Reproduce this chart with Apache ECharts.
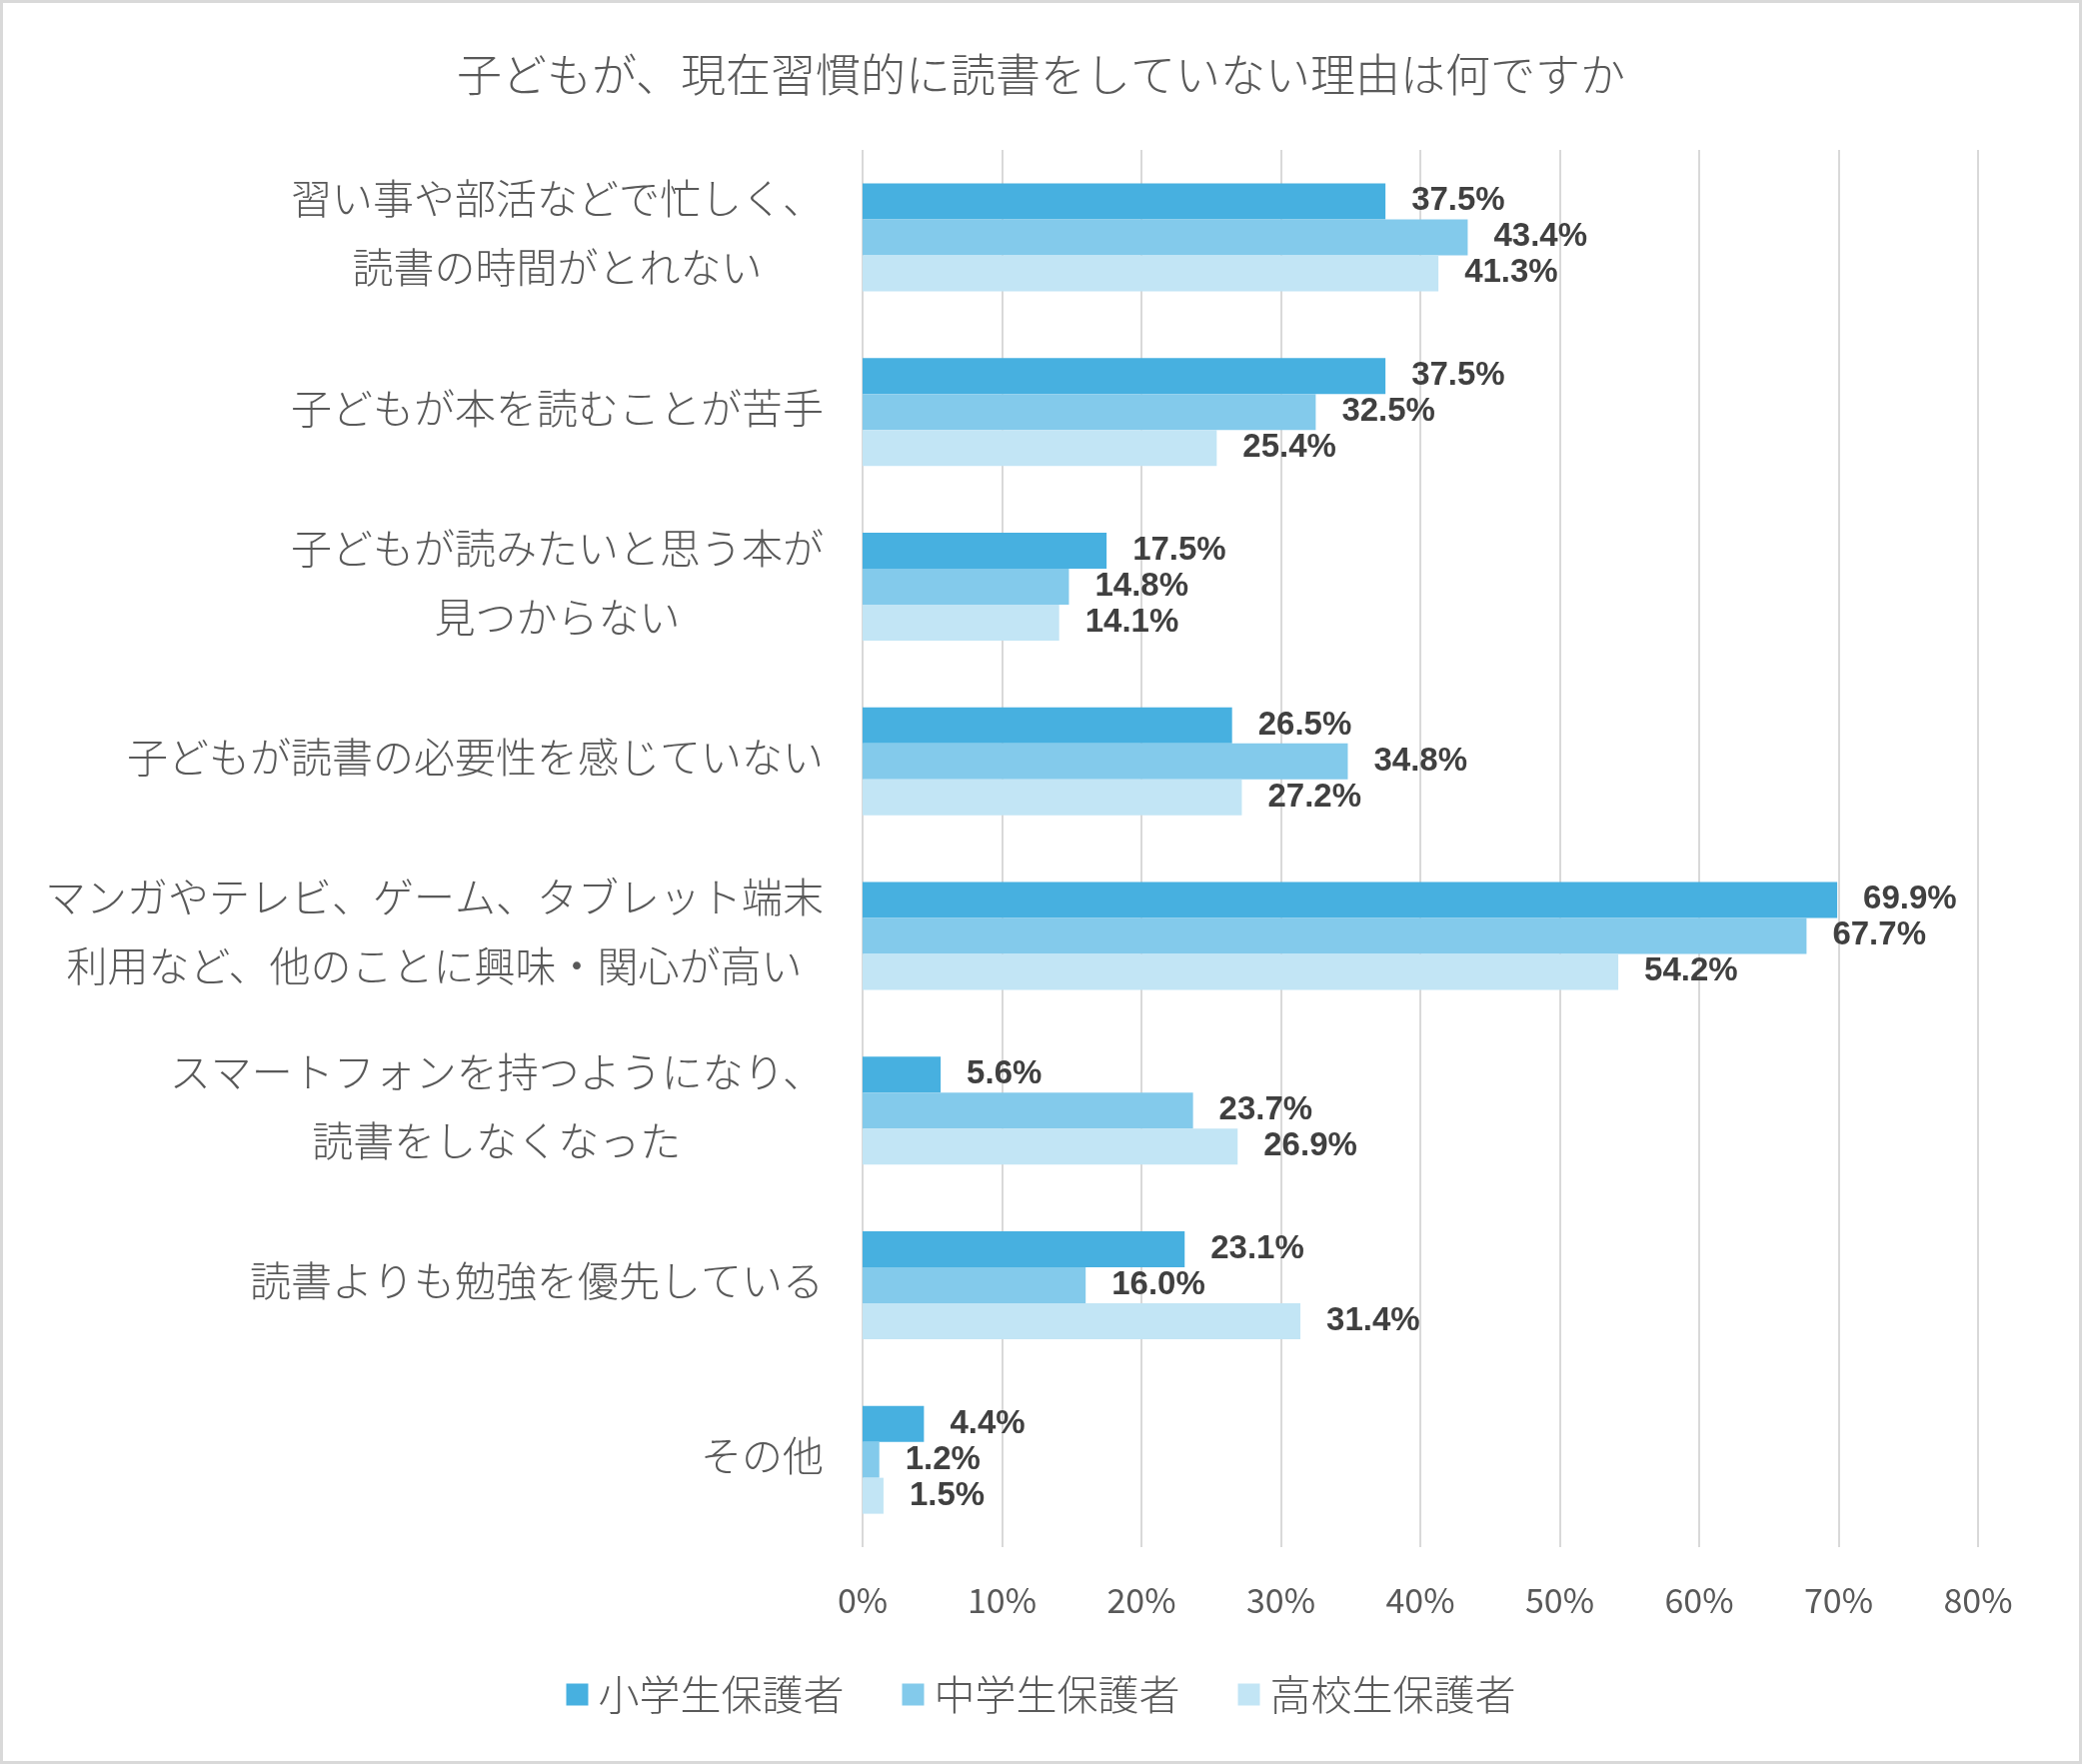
<!DOCTYPE html>
<html>
<head>
<meta charset="utf-8">
<script src="https://cdn.jsdelivr.net/npm/echarts@6/dist/echarts.min.js"></script>
<style>
html, body { margin: 0; padding: 0; background: #fff; }
#chart { width: 2083px; height: 1765px; }
</style>
</head>
<body>
<div id="chart"></div>
<script>
// 設問の選択肢（上から順）
const categories = [
    '習い事や部活などで忙しく、\n読書の時間がとれない',
    '子どもが本を読むことが苦手',
    '子どもが読みたいと思う本が\n見つからない',
    '子どもが読書の必要性を感じていない',
    'マンガやテレビ、ゲーム、タブレット端末\n利用など、他のことに興味・関心が高い',
    'スマートフォンを持つようになり、\n読書をしなくなった',
    '読書よりも勉強を優先している',
    'その他'
];
const seriesNames = ['小学生保護者', '中学生保護者', '高校生保護者'];
const elementary = [37.5, 37.5, 17.5, 26.5, 69.9, 5.6, 23.1, 4.4];
const juniorHigh = [43.4, 32.5, 14.8, 34.8, 67.7, 23.7, 16.0, 1.2];
const highSchool = [41.3, 25.4, 14.1, 27.2, 54.2, 26.9, 31.4, 1.5];
const tickMin = 0;
const tickMax = 80;
const tickStep = 10;

const colors = ['#47B0E0', '#83CAEB', '#C2E5F5'];
const jpFont = '"Noto Sans CJK JP", "Noto Sans", sans-serif';

const chart = echarts.init(document.getElementById('chart'));

function makeSeries(name, values, color) {
    return {
        name: name,
        type: 'bar',
        data: values,
        barWidth: 36,
        barGap: '0%',
        itemStyle: { color: color },
        label: {
            show: true,
            position: 'right',
            distance: 26,
            formatter: p => p.value.toFixed(1) + '%',
            color: '#404040',
            fontFamily: '"Liberation Sans", Arial, sans-serif',
            fontWeight: 'bold',
            fontSize: 33
        }
    };
}

const option = {
    backgroundColor: '#fff',
    animation: false,
    title: {
        text: '子どもが、現在習慣的に読書をしていない理由は何ですか',
        left: 'center',
        top: 44,
        textStyle: {
            color: '#595959',
            fontFamily: jpFont,
            fontWeight: 300,
            fontSize: 45,
            lineHeight: 52
        }
    },
    graphic: [{
        type: 'rect',
        shape: { x: 1.5, y: 1.5, width: 2080, height: 1762 },
        style: { fill: 'none', stroke: '#D9D9D9', lineWidth: 3 },
        silent: true
    }],
    legend: {
        data: seriesNames,
        left: 'center',
        top: 1670,
        icon: 'rect',
        itemWidth: 22,
        itemHeight: 22,
        itemGap: 58,
        textStyle: {
            color: '#595959',
            fontFamily: jpFont,
            fontWeight: 300,
            fontSize: 41,
            padding: [0, 0, 0, 5]
        }
    },
    grid: {
        left: 863,
        right: 104,
        top: 150,
        bottom: 217,
        containLabel: false
    },
    xAxis: {
        type: 'value',
        min: tickMin,
        max: tickMax,
        interval: tickStep,
        axisLine: { show: false },
        axisTick: { show: false },
        axisLabel: {
            formatter: '{value}%',
            color: '#595959',
            fontFamily: jpFont,
            fontSize: 34,
            margin: 36
        },
        splitLine: {
            lineStyle: { color: '#D9D9D9', width: 2 }
        }
    },
    yAxis: {
        type: 'category',
        data: categories,
        inverse: true,
        axisLine: { show: false },
        axisTick: { show: false },
        axisLabel: {
            margin: 39,
            padding: [0, 0, 8, 0],
            formatter: v => v.split('\n').map(s => '{c|' + s + '}').join('\n'),
            rich: {
                c: {
                    align: 'center',
                    color: '#595959',
                    fontFamily: jpFont,
                    fontWeight: 300,
                    fontSize: 41,
                    lineHeight: 69
                }
            }
        }
    },
    series: [
        makeSeries(seriesNames[0], elementary, colors[0]),
        makeSeries(seriesNames[1], juniorHigh, colors[1]),
        makeSeries(seriesNames[2], highSchool, colors[2])
    ]
};

chart.setOption(option);
</script>
</body>
</html>
